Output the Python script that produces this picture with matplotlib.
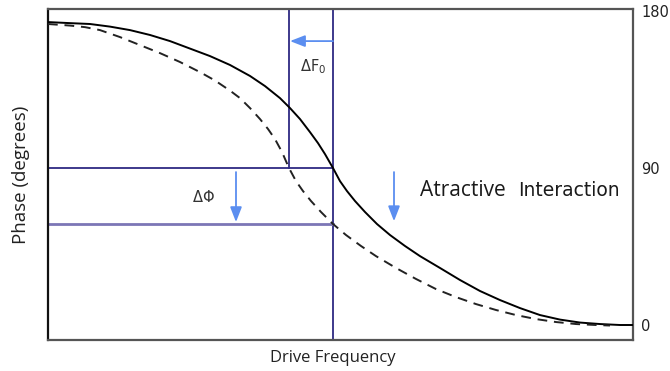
import matplotlib.pyplot as plt

# drive frequency (arbitrary units) and phase (degrees)
freq_free = [0, 22, 42, 62, 82, 102, 122, 142, 162, 182, 202, 217, 232, 242,
             252, 262, 270, 277, 285, 292, 299, 307, 317, 329, 342, 357, 372,
             392, 412, 432, 452, 472, 492, 512, 532, 552, 572, 585]
phase_free = [173.7, 173.1, 172.6, 171.1, 169.1, 166.3, 162.8, 158.5, 154.2,
              149.1, 142.8, 137.0, 130.1, 124.4, 118.1, 110.6, 104.3, 98.0,
              90.0, 82.5, 76.8, 71.1, 64.8, 57.9, 51.6, 45.3, 39.5, 32.7, 25.8,
              19.5, 14.3, 9.7, 5.7, 3.1, 1.4, 0.55, 0.0, 0.0]

freq_inter = [0, 22, 37, 52, 72, 92, 112, 132, 152, 167, 182, 192, 202, 212,
              220, 227, 234, 241, 248, 255, 263, 273, 285, 298, 313, 328, 348,
              368, 388, 408, 428, 448, 468, 488, 508, 528, 548, 562]
phase_inter = [172.6, 171.7, 170.8, 169.1, 165.1, 160.5, 155.9, 150.8, 145.0,
               140.2, 134.4, 130.1, 124.4, 118.1, 112.4, 106.6, 99.2, 90.0,
               82.5, 76.8, 71.1, 64.8, 57.9, 51.6, 45.3, 39.5, 32.7, 26.4, 20.6,
               16.0, 12.0, 8.6, 5.7, 3.4, 1.7, 0.55, 0.0, -0.3]

f0 = 285          # free resonance
f0_shift = 241    # shifted resonance
phi_shift = 57.9  # phase at f0 with interaction

yticks = [180, 90, 0]
ytick_labels = ["180", "90", "0"]

LINE_C = "#2e2a82"
LINE_C2 = "#7c76b6"
ARROW_C = "#5b8ef0"

fig = plt.figure(figsize=(6.7, 3.71), dpi=100)
ax = fig.add_axes([48 / 670, 31 / 371, 585 / 670, 331 / 371])

ax.plot(freq_free, phase_free, color="black", lw=1.4, zorder=3)
ax.plot(freq_inter, phase_inter, color="#222222", lw=1.4, ls=(0, (5, 3.5)), zorder=3)

# guide lines
ax.axvline(f0, color=LINE_C, lw=1.3, zorder=2)
ax.plot([f0_shift, f0_shift], [90, 190], color=LINE_C, lw=1.3, zorder=2)
ax.plot([0, f0], [90, 90], color=LINE_C, lw=1.3, zorder=2)
ax.plot([0, f0], [phi_shift, phi_shift], color=LINE_C2, lw=2.0, zorder=2)

arrow = dict(arrowstyle="-|>,head_length=0.9,head_width=0.35", color=ARROW_C,
             lw=1.3, shrinkA=0, shrinkB=0)
ax.annotate("", xy=(f0_shift + 1, 162.8), xytext=(f0, 162.8), arrowprops=arrow)
ax.annotate("", xy=(188, 59), xytext=(188, 87.7), arrowprops=arrow)
ax.annotate("", xy=(346, 59.5), xytext=(346, 87.7), arrowprops=arrow)

ax.text(265, 147.9, r"$\Delta$F$_0$", fontsize=10.5, color="#333333",
        ha="center", va="center")
ax.text(155, 73.4, r"$\Delta\Phi$", fontsize=10.5, color="#333333",
        ha="center", va="center")
ax.text(372, 77.4, "Atractive", fontsize=15, family="Open Sans", color="#1a1a1a",
        ha="left", va="center")
ax.text(470, 77.0, "Interaction", fontsize=13.5, color="#1a1a1a",
        ha="left", va="center")

ax.set_xlim(0, 585)
ax.set_ylim(-8.6, 181.2)
ax.set_xticks([])
ax.yaxis.tick_right()
ax.set_yticks(yticks)
ax.set_yticklabels(ytick_labels, fontsize=10.5, color="#222222")
ax.tick_params(axis="y", length=0, pad=6)

ax.set_xlabel("Drive Frequency", fontsize=12, family="Open Sans", color="#222222")
ax.xaxis.set_label_coords(0.487, -0.03, transform=ax.transAxes)
ax.xaxis.label.set_va("top")
ax.set_ylabel("Phase (degrees)", fontsize=13.5, family="Open Sans", color="#222222")
ax.yaxis.set_label_position("left")
ax.yaxis.set_label_coords(-0.031, 0.5)

for side in ["top", "right", "bottom"]:
    ax.spines[side].set_color("#555555")
    ax.spines[side].set_linewidth(1.6)
ax.spines["left"].set_color("#111111")
ax.spines["left"].set_linewidth(1.6)

fig.savefig("out.png", dpi=100)
